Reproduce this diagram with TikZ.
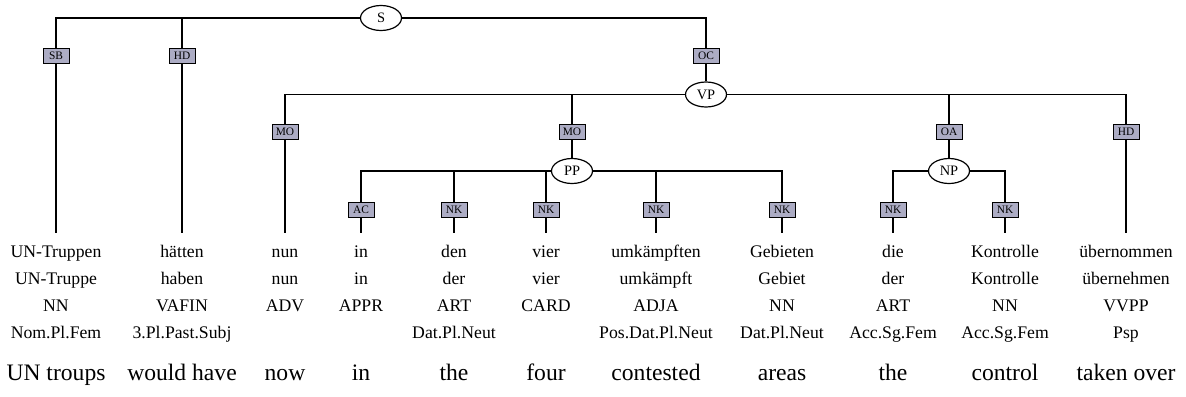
\documentclass[tikz,border=0pt]{standalone}
\usepackage{fontspec}
\setmainfont{Liberation Serif}
\usetikzlibrary{shapes.geometric}
\usepackage{xcolor}
\definecolor{edgefill}{RGB}{172,172,196}
\newcommand\wordtop{\rule{0pt}{11.75pt}}

\begin{document}
\begin{tikzpicture}[x=0.5pt, y=-0.5pt, line width=0.6pt,
    cat/.style={draw, ellipse, fill=white, minimum width=20.5pt, minimum height=12.5pt, inner sep=0pt, font=\fontsize{7.2}{8}\selectfont},
    edge/.style={draw, fill=edgefill, minimum width=13pt, minimum height=7.5pt, inner sep=0pt, line width=0.5pt, font=\fontsize{5.7}{6}\selectfont},
    word/.style={anchor=north, inner sep=0pt, align=center, font=\fontsize{8.85}{13.5}\selectfont},
    gloss/.style={anchor=base, inner sep=0pt, font=\fontsize{11.8}{13}\selectfont}]
        \useasboundingbox (0,0) rectangle (1186,396);
        \def\xa{56} \def\xb{182} \def\xc{285} \def\xd{361} \def\xe{454} \def\xf{546}
        \def\xg{656} \def\xh{782} \def\xi{893} \def\xj{1005} \def\xk{1126}

        \node[cat] (S) at (381,18) {S};
        \node[edge] (sb) at (\xa,56) {SB};
        \node[edge] (hd1) at (\xb,56) {HD};
        \node[edge] (oc) at (706,56) {OC};

        \node[cat] (VP) at (706,94.5) {VP};
        \node[edge] (mo1) at (\xc,132) {MO};
        \node[edge] (mo2) at (572,132) {MO};
        \node[edge] (oa) at (949,132) {OA};
        \node[edge] (hd2) at (\xk,132) {HD};

        \node[cat] (PP) at (572,171) {PP};
        \node[cat] (NP) at (949,171) {NP};
        \node[edge] (ac) at (\xd,209.5) {AC};
        \node[edge] (nk1) at (\xe,209.5) {NK};
        \node[edge] (nk2) at (\xf,209.5) {NK};
        \node[edge] (nk3) at (\xg,209.5) {NK};
        \node[edge] (nk4) at (\xh,209.5) {NK};
        \node[edge] (nk5) at (\xi,209.5) {NK};
        \node[edge] (nk6) at (\xj,209.5) {NK};

        \node[word] (w1) at (\xa,233) {\wordtop UN-Truppen\\UN-Truppe\\NN\\Nom.Pl.Fem};
        \node[word] (w2) at (\xb,233) {\wordtop hätten\\haben\\VAFIN\\3.Pl.Past.Subj};
        \node[word] (w3) at (\xc,233) {\wordtop nun\\nun\\ADV};
        \node[word] (w4) at (\xd,233) {\wordtop in\\in\\APPR};
        \node[word] (w5) at (\xe,233) {\wordtop den\\der\\ART\\Dat.Pl.Neut};
        \node[word] (w6) at (\xf,233) {\wordtop vier\\vier\\CARD};
        \node[word] (w7) at (\xg,233) {\wordtop umkämpften\\umkämpft\\ADJA\\Pos.Dat.Pl.Neut};
        \node[word] (w8) at (\xh,233) {\wordtop Gebieten\\Gebiet\\NN\\Dat.Pl.Neut};
        \node[word] (w9) at (\xi,233) {\wordtop die\\der\\ART\\Acc.Sg.Fem};
        \node[word] (w10) at (\xj,233) {\wordtop Kontrolle\\Kontrolle\\NN\\Acc.Sg.Fem};
        \node[word] (w11) at (\xk,233) {\wordtop übernommen\\übernehmen\\VVPP\\Psp};

        \node[gloss] (g1) at (\xa,380) {UN troups};
        \node[gloss] (g2) at (\xb,380) {would have};
        \node[gloss] (g3) at (\xc,380) {now};
        \node[gloss] (g4) at (\xd,380) {in};
        \node[gloss] (g5) at (\xe,380) {the};
        \node[gloss] (g6) at (\xf,380) {four};
        \node[gloss] (g7) at (\xg,380) {contested};
        \node[gloss] (g8) at (\xh,380) {areas};
        \node[gloss] (g9) at (\xi,380) {the};
        \node[gloss] (g10) at (\xj,380) {control};
        \node[gloss] (g11) at (\xk,380) {taken over};

        \draw (S) -| (sb);
        \draw (S) -| (hd1);
        \draw (S) -| (oc);
        \draw (sb) -- (w1);
        \draw (hd1) -- (w2);
        \draw (oc) -- (VP);

        \draw (VP) -| (mo1);
        \draw (VP) -| (mo2);
        \draw (VP) -| (oa);
        \draw (VP) -| (hd2);
        \draw (mo1) -- (w3);
        \draw (mo2) -- (PP);
        \draw (oa) -- (NP);
        \draw (hd2) -- (w11);

        \draw (PP) -| (ac);
        \draw (PP) -| (nk1);
        \draw (PP) -| (nk2);
        \draw (PP) -| (nk3);
        \draw (PP) -| (nk4);
        \draw (NP) -| (nk5);
        \draw (NP) -| (nk6);
        \draw (ac) -- (w4);
        \draw (nk1) -- (w5);
        \draw (nk2) -- (w6);
        \draw (nk3) -- (w7);
        \draw (nk4) -- (w8);
        \draw (nk5) -- (w9);
        \draw (nk6) -- (w10);
    \end{tikzpicture}
\end{document}
